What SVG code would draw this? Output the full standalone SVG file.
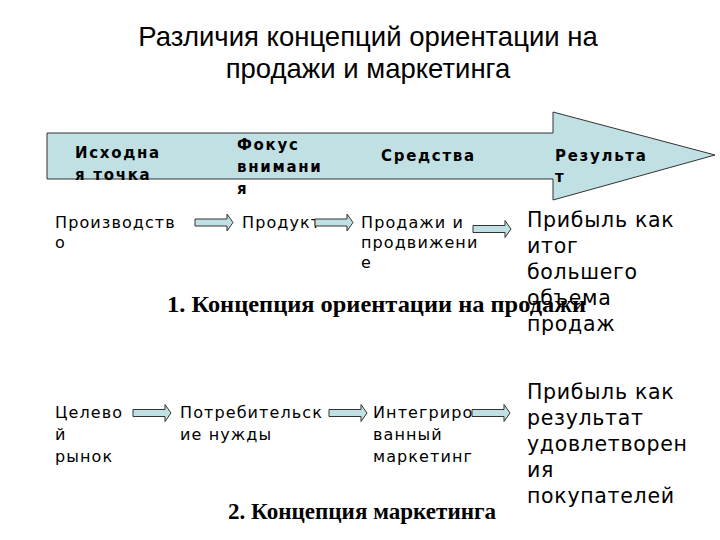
<svg xmlns="http://www.w3.org/2000/svg" width="720" height="540" viewBox="0 0 720 540">
<style>
.title{font-family:"Liberation Sans",Arial,sans-serif;font-size:27.5px;fill:#000;text-anchor:middle}
.hdr{font-family:"DejaVu Sans",sans-serif;font-size:15px;font-weight:bold;letter-spacing:1.7px;fill:#000}
.sm{font-family:"DejaVu Sans",sans-serif;font-size:16px;letter-spacing:1.1px;fill:#000}
.big{font-family:"DejaVu Sans",sans-serif;font-size:20.5px;letter-spacing:0.7px;fill:#000}
.cap{font-family:"Liberation Serif","Times New Roman",serif;font-size:23px;font-weight:bold;fill:#000}
.arr{fill:#C0E0E4;stroke:#333;stroke-width:1}
</style>
<defs>
<path id="sa" d="M0,-3.5 H32 V-8.5 L38,0 L32,8.5 V3.5 H0 Z"/>
</defs>
<g id="title">
<text class="title" x="368" y="46">Различия концепций ориентации на</text>
<text class="title" x="368" y="78">продажи и маркетинга</text>
</g>
<g id="bigArrow">
<polygon class="arr" points="47,133 553,133 553,112 715,155 553,200 553,179 47,179"/>
<text class="hdr" x="75" y="158">Исходна</text>
<text class="hdr" x="75" y="180">я точка</text>
<text class="hdr" x="237" y="150">Фокус</text>
<text class="hdr" x="237" y="172">внимани</text>
<text class="hdr" x="237" y="194">я</text>
<text class="hdr" x="381" y="161">Средства</text>
<text class="hdr" x="555" y="161">Результа</text>
<text class="hdr" x="555" y="182">т</text>
</g>
<g id="n1-production"><text class="sm" x="55" y="228">Производств</text><text class="sm" x="55" y="248">о</text></g>
<g id="n1-product"><text class="sm" x="242" y="228">Продукт</text></g>
<g id="n1-sales"><text class="sm" x="361" y="228">Продажи и</text><text class="sm" x="361" y="248">продвижени</text><text class="sm" x="361" y="268">е</text></g>
<g id="n1-profit"><text class="big" x="527" y="227">Прибыль как</text><text class="big" x="527" y="253">итог</text><text class="big" x="527" y="279">большего</text><text class="big" x="527" y="305">объема</text><text class="big" x="527" y="331">продаж</text></g>
<g id="caption1"><text class="cap" x="167" y="312" textLength="419" lengthAdjust="spacingAndGlyphs">1. Концепция ориентации на продажи</text></g>
<g id="n2-market"><text class="sm" x="55" y="418">Целево</text><text class="sm" x="55" y="440">й</text><text class="sm" x="55" y="462">рынок</text></g>
<g id="n2-needs"><text class="sm" x="180" y="418">Потребительск</text><text class="sm" x="180" y="440">ие нужды</text></g>
<g id="n2-integrated"><text class="sm" x="373" y="418">Интегриро</text><text class="sm" x="373" y="440">ванный</text><text class="sm" x="373" y="462">маркетинг</text></g>
<g id="n2-profit"><text class="big" x="527" y="399">Прибыль как</text><text class="big" x="527" y="425">результат</text><text class="big" x="527" y="451">удовлетворен</text><text class="big" x="527" y="477">ия</text><text class="big" x="527" y="503">покупателей</text></g>
<g id="caption2"><text class="cap" x="228" y="519" textLength="268" lengthAdjust="spacingAndGlyphs">2. Концепция маркетинга</text></g>
<g id="connectors">
<use href="#sa" class="arr" transform="translate(195,222.5)"/>
<use href="#sa" class="arr" transform="translate(315,222.5)"/>
<use href="#sa" class="arr" transform="translate(473,229)"/>
<use href="#sa" class="arr" transform="translate(133,413)"/>
<use href="#sa" class="arr" transform="translate(329,413)"/>
<use href="#sa" class="arr" transform="translate(472,413)"/>
</g>
</svg>
